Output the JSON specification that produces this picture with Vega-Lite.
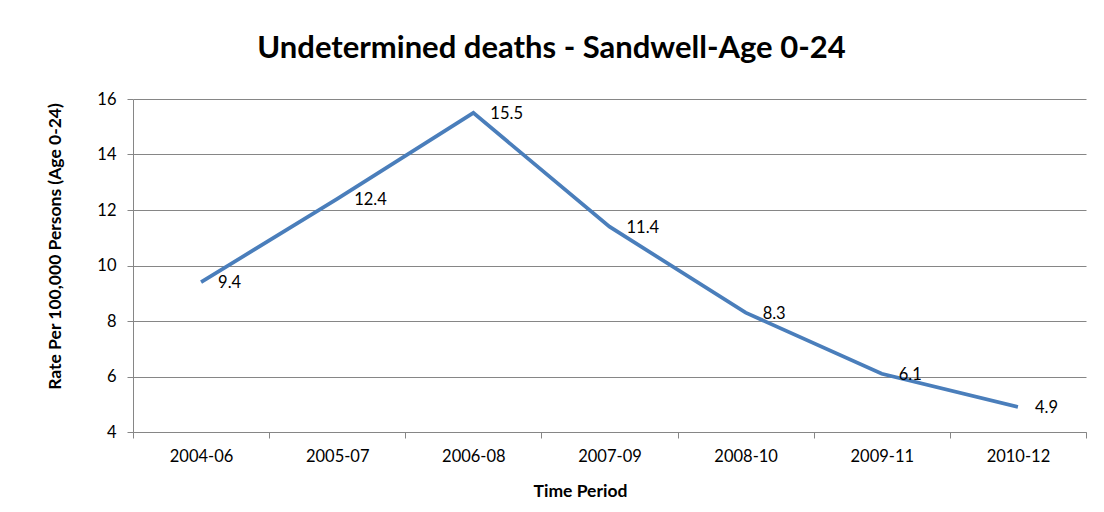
{
  "$schema": "https://vega.github.io/schema/vega-lite/v6.json",
  "width": 953,
  "height": 333,
  "autosize": {"type": "none"},
  "padding": {"left": 133, "top": 99, "right": 18, "bottom": 80},
  "background": "white",
  "config": {
    "font": "Lato",
    "view": {"stroke": null},
    "axis": {"labelFont": "Lato", "titleFont": "Lato", "labelColor": "black", "titleColor": "black"}
  },
  "title": {
    "text": "Undetermined deaths - Sandwell-Age 0-24",
    "font": "Lato",
    "fontSize": 31,
    "fontWeight": "bold",
    "color": "black",
    "anchor": "middle",
    "baseline": "alphabetic",
    "offset": 2,
    "dx": -58
  },
  "data": {
    "values": [
      {"period": "2004-06", "rate": 9.4},
      {"period": "2005-07", "rate": 12.4},
      {"period": "2006-08", "rate": 15.5},
      {"period": "2007-09", "rate": 11.4},
      {"period": "2008-10", "rate": 8.3},
      {"period": "2009-11", "rate": 6.1},
      {"period": "2010-12", "rate": 4.9}
    ]
  },
  "encoding": {
    "x": {
      "field": "period",
      "type": "nominal",
      "sort": null,
      "scale": {"type": "band", "paddingInner": 0, "paddingOuter": 0},
      "axis": {
        "title": "Time Period",
        "titleFontSize": 17.5,
        "titleFontWeight": "bold",
        "titleX": 447,
        "titleY": 59,
        "titleBaseline": "middle",
        "titleAlign": "center",
        "tickBand": "extent",
        "labelAngle": 0,
        "labelFontSize": 16.5,
        "labelPadding": 10,
        "tickSize": 6,
        "tickColor": "#868686",
        "domainColor": "#868686",
        "grid": false
      }
    },
    "y": {
      "field": "rate",
      "type": "quantitative",
      "scale": {"domain": [4, 16], "nice": false, "zero": false},
      "axis": {
        "title": "Rate Per 100,000 Persons (Age 0-24)",
        "titleFontSize": 17.5,
        "titleFontWeight": "bold",
        "titleX": -78,
        "titleY": 147,
        "titleAngle": -90,
        "titleAlign": "center",
        "titleBaseline": "middle",
        "values": [4, 6, 8, 10, 12, 14, 16],
        "labelFontSize": 16.5,
        "labelPadding": 11,
        "tickSize": 6,
        "tickColor": "#868686",
        "domainColor": "#868686",
        "grid": true,
        "gridColor": "#868686",
        "gridOpacity": 1
      }
    }
  },
  "layer": [
    {"mark": {"type": "line", "color": "#4A7EBB", "strokeWidth": 3.75}},
    {
      "mark": {"type": "text", "align": "left", "baseline": "middle", "dx": 17, "dy": 1, "fontSize": 16.5, "color": "black"},
      "encoding": {"text": {"field": "rate", "type": "quantitative", "format": ".1f"}}
    }
  ]
}
